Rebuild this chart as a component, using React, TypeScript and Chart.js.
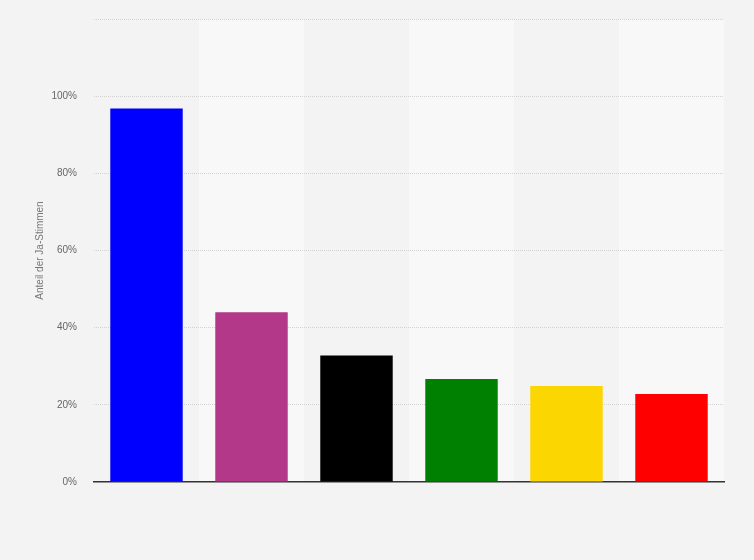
import React, { useEffect, useRef } from "react";
import { Chart, registerables } from "chart.js";

Chart.register(...registerables);

const categories = ["AfD", "Die Linke", "CDU/CSU", "Grüne", "FDP", "SPD"];
const values = [96.8, 44, 32.8, 26.7, 24.9, 22.8];
const barColors = ["#0000ff", "#b3388a", "#000000", "#008000", "#fcd600", "#ff0000"];
const yTicks = [0, 20, 40, 60, 80, 100, 120];
const yTitle = "Anteil der Ja-Stimmen";

const bandPlugin = {
  id: "bands",
  beforeDraw(chart: any) {
    const { ctx, chartArea, scales } = chart;
    const x = scales.x;
    const n = categories.length;
    const w = (chartArea.right - chartArea.left) / n;
    ctx.save();
    ctx.fillStyle = "#f8f8f8";
    for (let i = 1; i < n; i += 2) {
      const c = x.getPixelForValue(i);
      ctx.fillRect(c - w / 2, chartArea.top, w, chartArea.bottom - chartArea.top);
    }
    ctx.restore();
  },
};

export default function App() {
  const ref = useRef<HTMLCanvasElement>(null);
  useEffect(() => {
    document.body.style.margin = "0";
    const chart = new Chart(ref.current as HTMLCanvasElement, {
      type: "bar",
      data: {
        labels: categories,
        datasets: [
          {
            data: values,
            backgroundColor: barColors,
            borderWidth: 0,
            barPercentage: 0.69,
            categoryPercentage: 1,
          },
        ],
      },
      options: {
        animation: false,
        responsive: false,
        devicePixelRatio: 1,
        layout: { padding: { top: 19, right: 30, bottom: 78, left: 0 } },
        plugins: { legend: { display: false }, tooltip: { enabled: false } },
        scales: {
          x: {
            grid: { display: false, drawTicks: false },
            border: { display: true, color: "#333333", width: 1.5 },
            ticks: { display: false },
          },
          y: {
            min: 0,
            max: 120,
            afterFit: (s: any) => {
              s.width = 94;
              s.paddingTop = 0;
              s.paddingBottom = 0;
            },
            afterBuildTicks: (s: any) => {
              s.ticks = yTicks.map((v) => ({ value: v }));
            },
            grid: {
              drawTicks: false,
              color: (c: any) => (c.tick && c.tick.value === 0 ? "rgba(0,0,0,0)" : "#d2d2d2"),
              lineWidth: 1,
            },
            border: { display: false, dash: [1, 1] },
            ticks: {
              padding: 17,
              color: "#666666",
              font: { family: "'Liberation Sans', Arial, sans-serif", size: 10 },
              callback: (v: any) => (v === 120 ? "" : v + "%"),
            },
            title: {
              display: true,
              text: yTitle,
              color: "#777777",
              font: { family: "'Liberation Sans', Arial, sans-serif", size: 10 },
              padding: { top: 34, bottom: 0 },
            },
          },
        },
      },
      plugins: [bandPlugin],
    });
    return () => chart.destroy();
  }, []);
  return (
    <div style={{ position: "absolute", left: 0, top: 0, width: 754, height: 560, background: "#f3f3f3" }}>
      <canvas ref={ref} width={754} height={560} style={{ display: "block" }} />
    </div>
  );
}
